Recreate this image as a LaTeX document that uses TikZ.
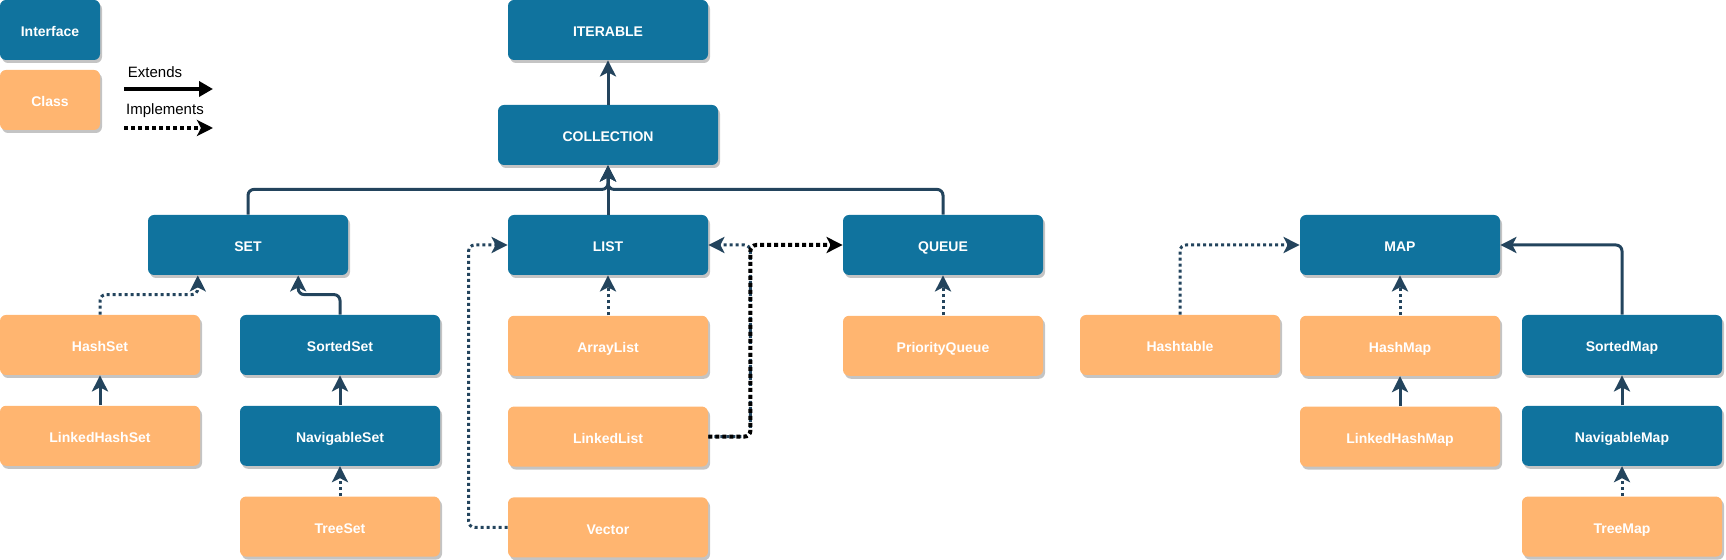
\documentclass[tikz,border=0pt]{standalone}
\usepackage{fontspec}
\setmainfont{Liberation Sans}
\usepackage{tikz}
\usetikzlibrary{arrows.meta,positioning,calc,shadows}
\definecolor{ifblue}{HTML}{10739E}
\definecolor{clorange}{HTML}{FFB570}
\definecolor{linkblue}{HTML}{23445D}
\definecolor{shade}{HTML}{C4C4C4}

\begin{document}
\begin{tikzpicture}[x=0.5pt,y=-0.5pt,font=\fontsize{7}{8.4}\selectfont\bfseries,>={Stealth[length=8pt,width=8pt,inset=2pt]},node distance=15pt]
\tikzset{box/.style={rounded corners=3pt,minimum width=100pt,minimum height=30pt,inner sep=0pt,text height=7pt,text depth=0pt,text=white,align=center,drop shadow={shadow xshift=1pt,shadow yshift=-1.5pt,fill=shade,opacity=1}}, iface/.style={box,fill=ifblue}, cls/.style={box,fill=clorange}, ext/.style={->,line width=1.5pt,draw=linkblue,rounded corners=3pt}, impl/.style={ext,dash pattern=on 1.5pt off 1.5pt}, legtext/.style={font=\fontsize{7.5}{9}\selectfont\mdseries}}
\useasboundingbox (0,0) rectangle (1726,560);
\node[iface,minimum width=50pt] (lgif) at (50,30) {Interface};
\node[cls,minimum width=50pt] (lgcl) at (50,100) {Class};
\node[legtext] (lgext) at (155,72) {Extends};
\node[legtext] (lgimp) at (165,111) {Implements};
\coordinate (e1) at (124,89); \coordinate (e2) at (213,89);
\coordinate (i1) at (124,128); \coordinate (i2) at (213,128);
\draw[-{Triangle[length=7pt,width=7.5pt]},line width=2pt] (e1)--(e2);
\draw[->,line width=2pt,dash pattern=on 2pt off 1.5pt] (i1)--(i2);
\node[iface] (iter) at (608,30) {ITERABLE};
\node[iface,minimum width=110pt] (coll) at (608,135) {COLLECTION};
\node[iface] (set) at (248,245) {SET};
\node[iface] (list) at (608,245) {LIST};
\node[iface] (queue) at (943,245) {QUEUE};
\node[iface] (map) at (1400,245) {MAP};
\node[cls] (hset) at (100,345) {HashSet};
\node[cls,below=of hset] (lhset) {LinkedHashSet};
\node[iface] (sset) at (340,345) {SortedSet};
\node[iface,below=of sset] (nset) {NavigableSet};
\node[cls,below=of nset] (tset) {TreeSet};
\node[cls,below=20pt of list] (alist) {ArrayList};
\node[cls,below=of alist] (llist) {LinkedList};
\node[cls,below=of llist] (vec) {Vector};
\node[cls,below=20pt of queue] (pq) {PriorityQueue};
\node[cls] (htab) at (1180,345) {Hashtable};
\node[cls,below=20pt of map] (hmap) {HashMap};
\node[cls,below=of hmap] (lhmap) {LinkedHashMap};
\node[iface] (smap) at (1622,345) {SortedMap};
\node[iface,below=of smap] (nmap) {NavigableMap};
\node[cls,below=of nmap] (tmap) {TreeMap};
\draw[ext] (coll)--(iter);
\draw[ext] (set.north)|-([yshift=-12pt]coll.south)--(coll.south);\draw[ext] (list)--(coll);\draw[ext] (queue.north)|-([yshift=-12pt]coll.south)--(coll.south);
\draw[impl] (hset.north)--++(0,-20)-|($(set.south west)!.25!(set.south east)$);
\draw[ext] (sset.north)--++(0,-20)-|($(set.south west)!.75!(set.south east)$);
\draw[ext] (lhset)--(hset);\draw[ext] (nset)--(sset);\draw[impl] (tset)--(nset);
\draw[impl] (alist)--(list);
\draw[impl] (llist.east)--++(42,0)|-(list.east);
\draw[impl,draw=black,line width=2pt,dash pattern=on 2pt off 1.5pt] (llist.east)--++(42,0)|-(queue.west);
\draw[impl] (vec.west)--++(-39,0)|-(list.west);
\draw[impl] (pq)--(queue);
\draw[impl] (htab.north)|-(map.west);
\draw[impl] (hmap)--(map);\draw[ext] (lhmap)--(hmap);
\draw[ext] (smap.north)|-(map.east);
\draw[ext] (nmap)--(smap);\draw[impl] (tmap)--(nmap);
\end{tikzpicture}
\end{document}
